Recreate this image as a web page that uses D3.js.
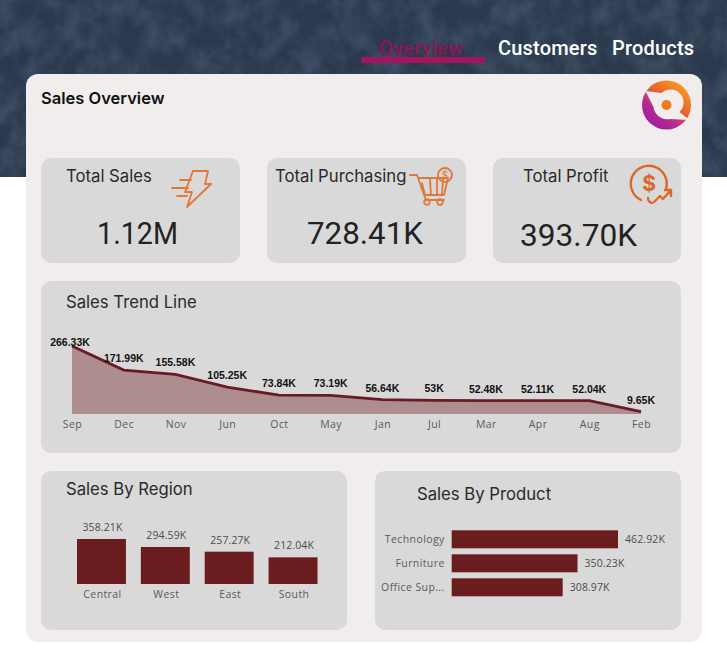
<!DOCTYPE html>
<html>
<head>
<meta charset="utf-8">
<title>Sales Overview</title>
<script src="https://cdn.jsdelivr.net/npm/d3@7"></script>
<style>
    html, body { margin: 0; padding: 0; background: #fff; }
    svg { display: block; }
    text { font-family: Inter, "Noto Sans", sans-serif; }
    .nav { font-family: Roboto, sans-serif; font-size: 20px; font-weight: 500; letter-spacing: 0.2px; }
    .card-title { font-size: 16.7px; fill: #2a2a2a; }
    .kpi-value { font-family: Roboto, sans-serif; font-size: 32px; fill: #222; }
    .trend-label { font-family: "Liberation Sans", sans-serif; font-size: 10.5px; font-weight: 700; fill: #111; text-anchor: middle; }
    .bar-label { font-family: "Open Sans", sans-serif; font-size: 10.5px; fill: #4c4c4c; letter-spacing: 0.1px; }
    .axis text { font-family: "Open Sans", sans-serif; font-size: 10.5px; fill: #5a5a5a; letter-spacing: 0.4px; }
    .icon { fill: none; stroke: #e0783a; stroke-width: 1.8; stroke-linecap: round; stroke-linejoin: round; }
</style>
</head>
<body>
<svg id="chart"></svg>
<script>
    // values
    const months = ["Sep", "Dec", "Nov", "Jun", "Oct", "May", "Jan", "Jul", "Mar", "Apr", "Aug", "Feb"];
    const monthSales = [266.33, 171.99, 155.58, 105.25, 73.84, 73.19, 56.64, 53, 52.48, 52.11, 52.04, 9.65];
    const monthLabels = ["266.33K", "171.99K", "155.58K", "105.25K", "73.84K", "73.19K", "56.64K", "53K", "52.48K", "52.11K", "52.04K", "9.65K"];

    const regions = ["Central", "West", "East", "South"];
    const regionSales = [358.21, 294.59, 257.27, 212.04];
    const regionLabels = ["358.21K", "294.59K", "257.27K", "212.04K"];

    const products = ["Technology", "Furniture", "Office Sup..."];
    const productSales = [462.92, 350.23, 308.97];
    const productLabels = ["462.92K", "350.23K", "308.97K"];

    const navItems = ["Overview", "Customers", "Products"];
    const kpiTitles = ["Total Sales", "Total Purchasing", "Total Profit"];
    const kpiValues = ["1.12M", "728.41K", "393.70K"];

    const width = 727;
    const height = 652;
    const barColor = "#6b1c1f";

    const svg = d3.select("#chart")
        .attr("width", width)
        .attr("height", height)
        .attr("viewBox", `0 0 ${width} ${height}`);

    const defs = svg.append("defs");

    // stone texture for the header
    const filter = defs.append("filter").attr("id", "stone")
        .attr("x", 0).attr("y", 0).attr("width", "100%").attr("height", "100%");
    filter.append("feTurbulence")
        .attr("type", "fractalNoise")
        .attr("baseFrequency", "0.05 0.04")
        .attr("numOctaves", 6)
        .attr("seed", 11);
    filter.append("feColorMatrix")
        .attr("values", "0 0 0 0 0.25  0 0 0 0 0.35  0 0 0 0 0.5  1.5 0 0 0 -0.5");

    const logoGradient = defs.append("linearGradient").attr("id", "logoGrad")
        .attr("x1", "85%").attr("y1", "5%").attr("x2", "20%").attr("y2", "90%");
    logoGradient.append("stop").attr("offset", "0%").attr("stop-color", "#f9a021");
    logoGradient.append("stop").attr("offset", "45%").attr("stop-color", "#e8622f");
    logoGradient.append("stop").attr("offset", "72%").attr("stop-color", "#b62a92");
    logoGradient.append("stop").attr("offset", "100%").attr("stop-color", "#a21f9b");

    // header + main card
    svg.append("rect").attr("width", width).attr("height", 177).attr("fill", "#2a394d");
    svg.append("rect").attr("width", width).attr("height", 177).attr("filter", "url(#stone)").attr("opacity", 0.28);
    svg.append("rect").attr("x", 26).attr("y", 74).attr("width", 676).attr("height", 568).attr("rx", 12).attr("fill", "#f1eded");

    // nav
    const navX = [379, 498, 612];
    svg.selectAll(".nav")
        .data(navItems)
        .join("text")
        .attr("class", "nav")
        .attr("x", (d, i) => navX[i])
        .attr("y", 55)
        .attr("fill", (d, i) => i === 0 ? "#8c1552" : "#fff")
        .text(d => d);
    svg.append("rect").attr("x", 361).attr("y", 57).attr("width", 124).attr("height", 6).attr("rx", 1).attr("fill", "#a5155f");

    svg.append("text")
        .attr("x", 41).attr("y", 104)
        .attr("font-size", 16.5).attr("font-weight", 600).attr("fill", "#111")
        .text("Sales Overview");

    // grey panels
    const panels = [
        [41, 158, 199, 105], [267, 158, 199, 105], [493, 158, 188, 105],
        [41, 281, 640, 172], [41, 471, 306, 159], [375, 471, 306, 159]
    ];
    svg.selectAll(".panel")
        .data(panels)
        .join("rect")
        .attr("class", "panel")
        .attr("x", d => d[0]).attr("y", d => d[1])
        .attr("width", d => d[2]).attr("height", d => d[3])
        .attr("rx", 10)
        .attr("fill", "#d9d9d9");

    // KPI cards
    const kpiTitleX = [66, 275, 523];
    const kpiValueX = [97, 307, 520];
    const kpiValueY = [244, 244, 246];
    const kpiValueW = [81, 116, 117];
    svg.selectAll(".kpi-title")
        .data(kpiTitles)
        .join("text")
        .attr("class", "kpi-title card-title")
        .attr("x", (d, i) => kpiTitleX[i])
        .attr("y", 182)
        .text(d => d);
    // the original face is condensed, so squeeze Roboto to the same widths
    svg.selectAll(".kpi-value")
        .data(kpiValues)
        .join("text")
        .attr("class", "kpi-value")
        .attr("x", (d, i) => kpiValueX[i])
        .attr("y", (d, i) => kpiValueY[i])
        .attr("textLength", (d, i) => kpiValueW[i])
        .attr("lengthAdjust", "spacingAndGlyphs")
        .text(d => d);

    // bolt icon
    const bolt = svg.append("g").attr("class", "icon").attr("transform", "translate(172,170)");
    bolt.append("path").attr("d", "M21 1H36L33 14H39L15 37L20 22H13L21 1M8 10H19M0 18H16M5 26H15");

    // cart icon
    const cart = svg.append("g").attr("class", "icon").attr("transform", "translate(410,168)");
    cart.append("path").attr("d", "M0 7H7L14 27H34L38 10H8M12 15L15 27M20 11L21 27M27 11L27 27M33 11L32 27M14 27L16 32H34");
    cart.append("circle").attr("cx", 17).attr("cy", 34).attr("r", 2.8);
    cart.append("circle").attr("cx", 30).attr("cy", 34).attr("r", 2.8);
    cart.append("circle").attr("cx", 35).attr("cy", 7).attr("r", 7);
    cart.append("text").attr("x", 35).attr("y", 10.5).attr("text-anchor", "middle")
        .attr("font-size", 10).attr("fill", "#e0783a").attr("stroke", "none").text("$");

    // profit icon
    const profit = svg.append("g").attr("class", "icon").attr("transform", "translate(649,183)");
    profit.append("path").attr("d", "M-8 17A18 18 0 1 1 17 6").attr("stroke-width", 2.4).attr("stroke", "#d9692b");
    profit.append("path").attr("d", "M-1 15Q-1 19 3 20").attr("stroke-width", 2.4).attr("stroke", "#d9692b");
    profit.append("text").attr("x", 0).attr("y", 8).attr("text-anchor", "middle")
        .attr("font-size", 21).attr("font-weight", 700).attr("fill", "#d9692b").attr("stroke", "none").text("$");
    profit.append("path").attr("d", "M5 19L11 13L14 16L21 8M16 7H22V13").attr("stroke-width", 2.4).attr("stroke", "#d9692b");

    // logo
    const logo = svg.append("g").attr("transform", "translate(666.5,105)");
    logo.append("circle").attr("r", 24.5).attr("fill", "url(#logoGrad)");
    logo.append("path").attr("fill", "#f1eded")
        .attr("d", "M-21 -14L-5 -12A13 13 0 0 1 13 7L23 15L4 14A14 14 0 0 1 -13 2Z");
    logo.append("circle").attr("r", 5).attr("fill", "#ee7a22");

    // --- Sales Trend Line ---
    svg.append("text").attr("class", "card-title").attr("x", 66).attr("y", 308).text("Sales Trend Line");

    const trendBase = 414;
    const trendX = d3.scalePoint().domain(months).range([72, 641]);
    const trendY = d3.scaleLinear().domain([0, 266.33]).range([trendBase, 346]);
    const trendData = months.map((m, i) => ({month: m, value: monthSales[i], label: monthLabels[i]}));

    svg.append("path")
        .datum(trendData)
        .attr("fill", barColor)
        .attr("opacity", 0.4)
        .attr("d", d3.area().x(d => trendX(d.month)).y0(trendBase).y1(d => trendY(d.value)));
    svg.append("path")
        .datum(trendData)
        .attr("fill", "none")
        .attr("stroke", "#6a1a26")
        .attr("stroke-width", 2.8)
        .attr("d", d3.line().x(d => trendX(d.month)).y(d => trendY(d.value)));

    svg.selectAll(".trend-label")
        .data(trendData)
        .join("text")
        .attr("class", "trend-label")
        .attr("x", d => trendX(d.month) - (d.month === "Sep" ? 2 : 0))
        .attr("y", d => trendY(d.value) - (d.month === "Sep" ? 0 : 8))
        .text(d => d.label);

    const trendAxis = svg.append("g")
        .attr("class", "axis")
        .attr("transform", `translate(0,${trendBase})`)
        .call(d3.axisBottom(trendX).tickSize(0).tickPadding(7));
    trendAxis.select(".domain").remove();

    // --- Sales By Region ---
    svg.append("text").attr("class", "card-title").attr("x", 66).attr("y", 495).text("Sales By Region");

    const regionBase = 584;
    const regionX = d3.scaleBand().domain(regions).range([77, 317.5]).paddingInner(0.234).paddingOuter(0);
    const regionY = d3.scaleLinear().domain([0, 358.21]).range([regionBase, 539]);

    svg.selectAll(".region-bar")
        .data(regions)
        .join("rect")
        .attr("class", "region-bar")
        .attr("x", d => regionX(d))
        .attr("y", (d, i) => regionY(regionSales[i]))
        .attr("width", regionX.bandwidth())
        .attr("height", (d, i) => regionBase - regionY(regionSales[i]))
        .attr("fill", barColor);

    svg.selectAll(".region-label")
        .data(regions)
        .join("text")
        .attr("class", "region-label bar-label")
        .attr("x", d => regionX(d) + regionX.bandwidth() / 2 + 1)
        .attr("y", (d, i) => regionY(regionSales[i]) - 8)
        .attr("text-anchor", "middle")
        .text((d, i) => regionLabels[i]);

    const regionAxis = svg.append("g")
        .attr("class", "axis")
        .attr("transform", `translate(1,${regionBase})`)
        .call(d3.axisBottom(regionX).tickSize(0).tickPadding(7));
    regionAxis.select(".domain").remove();

    // --- Sales By Product ---
    svg.append("text").attr("class", "card-title").attr("x", 417).attr("y", 500).text("Sales By Product");

    const productLeft = 451.7;
    const productX = d3.scaleLinear().domain([0, 462.92]).range([productLeft, 618]);
    const productY = d3.scaleBand().domain(products).range([530.3, 596.3]).paddingInner(0.25).paddingOuter(0);

    svg.selectAll(".product-bar")
        .data(products)
        .join("rect")
        .attr("class", "product-bar")
        .attr("x", productLeft)
        .attr("y", d => productY(d))
        .attr("width", (d, i) => productX(productSales[i]) - productLeft)
        .attr("height", productY.bandwidth())
        .attr("fill", barColor);

    svg.selectAll(".product-label")
        .data(products)
        .join("text")
        .attr("class", "product-label bar-label")
        .attr("x", (d, i) => productX(productSales[i]) + 7)
        .attr("y", d => productY(d) + productY.bandwidth() / 2)
        .attr("dy", "0.35em")
        .text((d, i) => productLabels[i]);

    const productAxis = svg.append("g")
        .attr("class", "axis")
        .attr("transform", `translate(${productLeft},0)`)
        .call(d3.axisLeft(productY).tickSize(0).tickPadding(7));
    productAxis.select(".domain").remove();
</script>
</body>
</html>
